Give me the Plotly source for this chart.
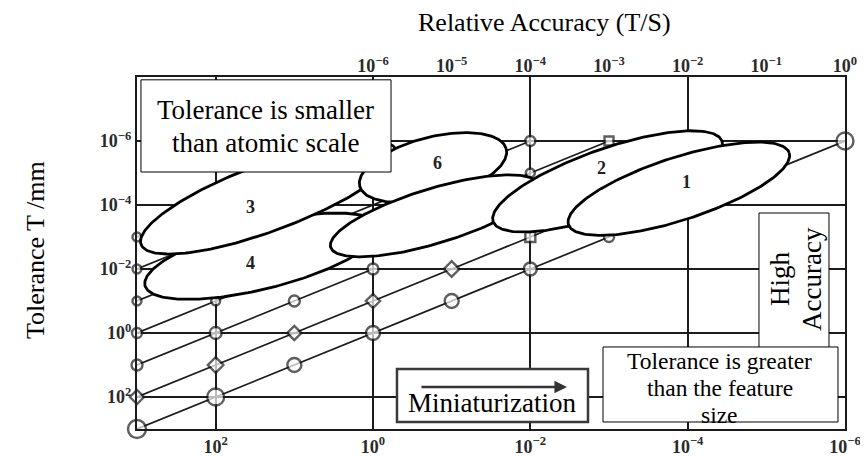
import numpy as np
import plotly.graph_objects as go

# ---------------- data ----------------
# bottom axis: feature size S (log, decreasing to the right)
s_tick_vals = [1e2, 1e0, 1e-2, 1e-4, 1e-6]
s_tick_text = ["10<sup>2</sup>", "10<sup>0</sup>", "10<sup>−2</sup>", "10<sup>−4</sup>", "10<sup>−6</sup>"]
# left axis: tolerance T /mm
t_tick_vals = [1e-6, 1e-4, 1e-2, 1e0, 1e2]
t_tick_text = ["10<sup>−6</sup>", "10<sup>−4</sup>", "10<sup>−2</sup>", "10<sup>0</sup>", "10<sup>2</sup>"]
# top axis: relative accuracy T/S (read along T = 1e-6)
r_tick_vals = [1e-6, 1e-5, 1e-4, 1e-3, 1e-2, 1e-1, 1e0]
r_tick_text = ["10<sup>−6</sup>", "10<sup>−5</sup>", "10<sup>−4</sup>", "10<sup>−3</sup>",
               "10<sup>−2</sup>", "10<sup>−1</sup>", "10<sup>0</sup>"]

# lines of constant relative accuracy T/S
diag_ratio = [1e0, 1e-1, 1e-2, 1e-3, 1e-4, 1e-5, 1e-6]
diag_s_start = [1e3, 1e3, 1e3, 1e3, 1e3, 1e3, 1e3]
diag_s_end = [1e-6, 1e-3, 1e0, 1e-3, 1e-2, 1e2, 1e2]

# node markers (S, T)
mk_S = [1e3, 1e2, 1e1, 1e0, 1e-1, 1e-2, 1e-3, 1e-5, 1e-6,
        1e3, 1e2, 1e1, 1e0, 1e-1, 1e-2,
        1e3, 1e2, 1e1, 1e0,
        1e3, 1e2, 1e-2, 1e-3,
        1e3, 1e-2,
        1e3, 1e3]
mk_T = [1e3, 1e2, 1e1, 1e0, 1e-1, 1e-2, 1e-3, 1e-5, 1e-6,
        1e2, 1e1, 1e0, 1e-1, 1e-2, 1e-3,
        1e1, 1e0, 1e-1, 1e-2,
        1e0, 1e-1, 1e-5, 1e-6,
        1e-1, 1e-6,
        1e-2, 1e-3]
mk_symbol = ["circle"] * 9 + ["diamond"] * 5 + ["square"] + ["circle"] * 4 + \
            ["circle", "circle", "circle", "square"] + ["circle"] * 4
mk_size = [18, 17, 14, 14, 14, 13, 10, 10, 17,
           11, 12, 11, 11, 12, 10,
           11, 12, 11, 11,
           10, 9, 9, 9,
           9, 10,
           9, 9]

# regions (ellipses in log10 space): centre, major semi-axis vector, minor semi-axis vector
ell_name = ["4", "3", "6", "5", "2", "1"]
ell_cu = [1.406, 1.329, -0.763, -0.782, -2.982, -3.888]
ell_cv = [-2.400, -4.246, -5.169, -3.662, -4.738, -4.508]
ell_au = [-1.492, -1.620, -0.931, -1.320, -1.454, -1.403]
ell_av = [-0.923, -1.477, -0.585, -0.985, -1.262, -1.123]
ell_bu = [-0.105, -0.144, -0.100, -0.102, -0.143, -0.125]
ell_bv = [0.985, 0.990, 0.923, 0.820, 0.955, 0.930]

# region number labels (log10 S, log10 T)
lab_text = ["4", "3", "6", "2", "1"]
lab_u = [1.559, 1.559, -0.814, -2.906, -3.990]
lab_v = [-2.185, -3.938, -5.323, -5.169, -4.708]

# ---------------- figure ----------------
INK = "#1b1b1b"
SERIF = "Liberation Serif"
fig = go.Figure()

for r, s0, s1 in zip(diag_ratio, diag_s_start, diag_s_end):
    fig.add_trace(go.Scatter(x=[s0, s1], y=[s0 * r, s1 * r], mode="lines",
                             line=dict(color=INK, width=1.7), hoverinfo="skip"))

fig.add_trace(go.Scatter(x=mk_S, y=mk_T, mode="markers", cliponaxis=False,
                         marker=dict(symbol=mk_symbol, size=mk_size, color="white",
                                     line=dict(color=INK, width=2.4)),
                         hoverinfo="skip"))

tt = np.linspace(0, 2 * np.pi, 240)
for i in range(len(ell_name)):
    u = ell_cu[i] + ell_au[i] * np.cos(tt) + ell_bu[i] * np.sin(tt)
    v = ell_cv[i] + ell_av[i] * np.cos(tt) + ell_bv[i] * np.sin(tt)
    fig.add_trace(go.Scatter(x=10 ** u, y=10 ** v, mode="lines", fill="toself",
                             fillcolor="white", line=dict(color="black", width=2.8),
                             hoverinfo="skip"))

# invisible trace to carry the top axis
fig.add_trace(go.Scatter(x=r_tick_vals, y=[1e-6] * len(r_tick_vals), xaxis="x2",
                         mode="markers", marker=dict(opacity=0), hoverinfo="skip"))

tickfont = dict(family=SERIF, size=18, color="#2a2a2a")

# page body adds an 8 px offset, so the canvas is 860x448
fig.update_layout(
    width=860, height=448,
    margin=dict(l=129, r=23, t=69, b=27, autoexpand=False),
    paper_bgcolor="white", plot_bgcolor="white",
    showlegend=False,
    xaxis=dict(type="log", range=[3, -6], autorange=False, automargin=False,
               tickvals=s_tick_vals, ticktext=["<b>" + t + "</b>" for t in s_tick_text],
               tickfont=tickfont, ticks="",
               showgrid=True, gridcolor=INK, gridwidth=1.9, zeroline=False,
               showline=True, linecolor=INK, linewidth=2.4, mirror=True),
    xaxis2=dict(type="log", range=[-9, 0], autorange=False, overlaying="x", side="top",
                automargin=False,
                tickvals=r_tick_vals, ticktext=["<b>" + t + "</b>" for t in r_tick_text],
                tickfont=tickfont, ticks="", showgrid=False, zeroline=False,
                showline=False),
    yaxis=dict(type="log", range=[3, -8], autorange=False, automargin=False,
               tickvals=t_tick_vals, ticktext=["<b>" + t + "</b>" for t in t_tick_text],
               tickfont=tickfont, ticks="",
               showgrid=True, gridcolor=INK, gridwidth=1.9, zeroline=False,
               showline=True, linecolor=INK, linewidth=2.4, mirror=True),
)

# boxes (paper coordinates)
shapes = [
    dict(type="rect", xref="paper", yref="paper", x0=0.0056, x1=0.3588, y0=0.7301, y1=0.992,
         fillcolor="white", line=dict(color="black", width=1), layer="above"),
    dict(type="rect", xref="paper", yref="paper", x0=0.3672, x1=0.6370, y0=0.0199, y1=0.1705,
         fillcolor="white", line=dict(color="#3a3a3a", width=2.5), layer="above"),
    dict(type="rect", xref="paper", yref="paper", x0=0.8785, x1=0.9774, y0=0.196, y1=0.6136,
         fillcolor="white", line=dict(color="black", width=1), layer="above"),
    dict(type="rect", xref="paper", yref="paper", x0=0.6582, x1=0.9901, y0=0.0199, y1=0.2330,
         fillcolor="white", line=dict(color="black", width=1), layer="above"),
]
fig.update_layout(shapes=shapes)

big = dict(family=SERIF, size=27, color="black")
mid = dict(family=SERIF, size=23.5, color="black")
ann = []
def txt(x, y, s, angle=0, font=big):
    ann.append(dict(xref="paper", yref="paper", x=x, y=y, text=s, showarrow=False,
                    xanchor="center", yanchor="middle", textangle=angle, font=font))

txt(0.575, 1.156, "Relative Accuracy (T/S)", font=dict(family=SERIF, size=26, color="black"))
txt(-0.144, 0.5085, "Tolerance T /mm", angle=-90, font=dict(family=SERIF, size=26, color="black"))
txt(0.182, 0.906, "Tolerance is smaller")
txt(0.182, 0.8125, "than atomic scale")
txt(0.5014, 0.0739, "Miniaturization")
txt(0.8234, 0.1932, "Tolerance is greater", font=mid)
txt(0.8234, 0.1165, "than the feature", font=mid)
txt(0.8234, 0.0398, "size", font=mid)
txt(0.9082, 0.4261, "High", angle=-90)
txt(0.9534, 0.4261, "Accuracy", angle=-90)

# miniaturization arrow
ann.append(dict(xref="paper", yref="paper", x=0.6073, y=0.1193, ax=-147, ay=0,
                axref="pixel", ayref="pixel", text="", showarrow=True,
                arrowhead=2, arrowsize=1, arrowwidth=2.5, arrowcolor="#333333"))

# region numbers
for s, u, v in zip(lab_text, lab_u, lab_v):
    ann.append(dict(xref="x", yref="y", x=u, y=v, text="<b>" + s + "</b>", showarrow=False,
                    font=dict(family=SERIF, size=18, color="#222222")))

fig.update_layout(annotations=ann)
fig.write_html("out.html")
